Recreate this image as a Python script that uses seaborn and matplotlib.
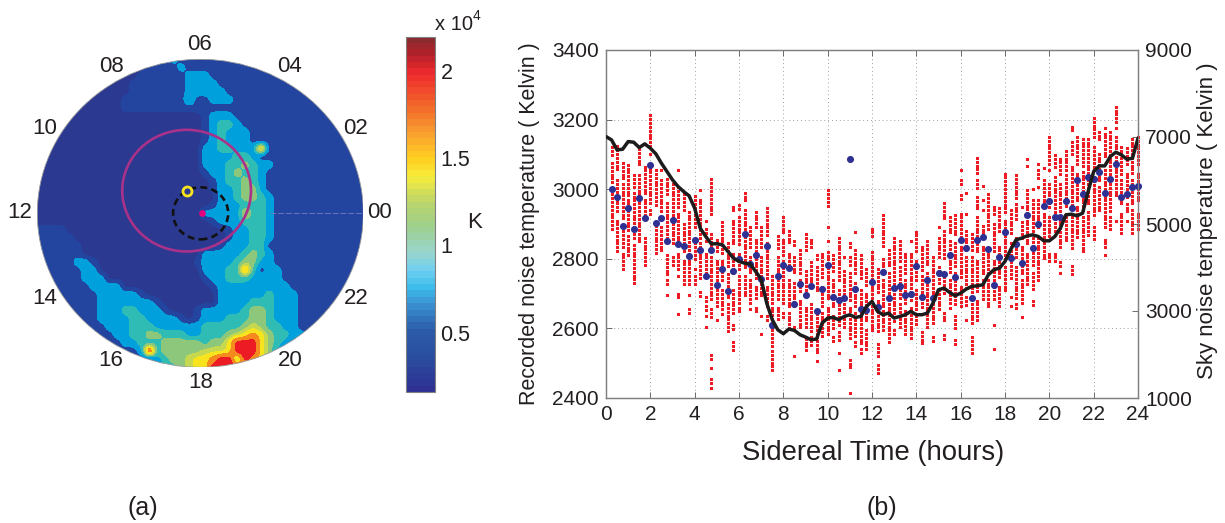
import numpy as np
import pandas as pd
import matplotlib
matplotlib.use("Agg")
import matplotlib.pyplot as plt
from matplotlib.colors import LinearSegmentedColormap, Normalize
from matplotlib.cm import ScalarMappable
from matplotlib.patches import Circle
import seaborn as sns

# ---------- data: sky map (band code per grid node) ----------
SKY_ROWS = [
"0000000000 0000111211 1111111111 1000000000 00",
"0000000000 0000111121 1111111111 1100000000 00",
"0000000000 0001111112 2211111111 1110000000 00",
"0000000000 0011111112 2221111111 1111000000 00",
"0000000000 0011111112 2222111111 1111100000 00",
"0000000000 0111111113 1122211111 1111110000 00",
"0000000000 0111111111 1111111111 1111110000 00",
"0000000000 0000000000 0122211111 1111111000 00",
"0000000000 0000000000 0123321111 1111111100 00",
"0000000000 0000000000 0123222111 1111111110 00",
"0000000000 0000000000 0123222111 1111111111 00",
"0000000000 0000000000 0223322271 1111111111 10",
"0000000000 0000000000 0222233211 1111111111 10",
"0000000000 0000000000 0222334322 1111111111 10",
"0000000000 0000000000 0122343321 1111111111 10",
"0000000000 0000000000 0012334321 1111111111 10",
"0000000000 0000000000 0012234421 1111111111 10",
"0000000000 0000000000 0002234432 1111111111 10",
"0000000000 0000000000 0012223332 1111111111 10",
"0000000000 0000000000 0222225332 1111111111 11",
"0000000000 0000000000 0012223332 1111111111 11",
"1111000000 0000000000 0000122332 1111111111 11",
"1111100000 0000000000 0000122332 1111111111 11",
"1111110000 0000000000 0001222331 1111111111 11",
"1111110000 0000000000 0222223432 1111111111 11",
"1111122100 0000000000 1222234422 1111111111 11",
"1111112200 0000000000 0222337312 2111111111 11",
"1111112220 0000000000 0122333222 2111111111 11",
"1111111222 2000000000 0012222222 2211111111 11",
"1111111122 2221000000 0002222223 2221111111 11",
"1111111122 2222210000 0002222333 2221111111 11",
"1111111122 2332221000 1222223443 2221111111 11",
"1111111122 2233222210 1222333443 2221111111 11",
"1111111112 2233322222 2333334543 3221111111 11",
"1111111111 2233443332 2333456764 3322111111 11",
"1111111111 1223334444 4344688864 3211111111 11",
"1111111111 1112834444 4555688864 2111111111 11",
"1111111111 1111123445 6678848764 2111111111 11",
"1111111111 1111113345 6688886644 2111111111 11",
"1111111111 1111113345 6688886644 2111111111 11",
]
SKY_BAND_TEMPS = [0.20, 0.40, 0.70, 0.90, 1.10, 1.25, 1.40, 1.65, 1.95]   # x 10^4 K
SKY_BAND_COLORS = ["#2b3990", "#2345a0", "#00a0dc", "#2fbcb4", "#8dc77b",
                   "#c5d84f", "#f7e41f", "#f58a1f", "#ed1c24", "#c0202a"]
HOUR_LABELS = ["00", "02", "04", "06", "08", "10", "12", "14", "16", "18", "20", "22"]
CB_COLORS = ["#2e3192", "#2b4ea0", "#2b5ba8", "#3a8fd0", "#3dbdea", "#6ecff0", "#98d5cf",
             "#9ccf8f", "#bcd56a", "#f7ec3a", "#ffd020", "#f9a030", "#f36a2a", "#ee2a2e",
             "#b9212a", "#8b2a2e"]
CB_VALUES = [0.16, 0.35, 0.50, 0.65, 0.75, 0.85, 0.95, 1.10, 1.25, 1.40, 1.50, 1.65, 1.80, 2.00, 2.10, 2.196]

# ---------- data: noise temperature panel ----------
MEAN_TEMPS = [3000,2978,2895,2945,2886,2975,2917,3069,2904,2917,2852,2911,2842,2837,2807,2855,
              2824,2751,2824,2725,2770,2707,2764,2798,2870,2785,2810,2743,2838,2611,2751,2781,
              2773,2669,2728,2696,2722,2651,2714,2782,2690,2681,2686,3088,2712,2655,2653,2732,
              2661,2761,2688,2715,2722,2695,2699,2780,2690,2739,2686,2760,2755,2811,2749,2854,
              2830,2686,2854,2863,2829,2726,2805,2877,2801,2842,2789,2926,2831,2900,2952,2967,
              2921,2921,2965,2946,3025,2987,3035,3030,3049,2989,3028,3073,2978,2986,3007,3009]
SKY_CURVE = [7010,6933,6704,6719,6895,6880,6757,6842,6742,6612,6397,6206,6015,5862,5747,5647,5364,
             4905,4713,4545,4545,4522,4369,4216,4139,4101,4085,3909,3733,3182,2799,2569,2478,2585,
             2554,2455,2401,2340,2355,2723,2837,2853,2799,2876,2914,2853,2876,3105,3220,2991,2914,
             2952,2837,2876,2914,2991,2914,2914,2952,3182,3488,3526,3427,3350,3412,3503,3565,3580,
             3603,3833,3948,3986,4139,4407,4637,4675,4729,4751,4713,4614,4614,4713,4905,5211,5226,
             5188,5249,5747,6206,6336,6336,6551,6650,6589,6489,6512,6972]
# occupied temperature runs (hi, lo) for each quarter-hour column, t = 0.25 ... 24
RECORDED_RUNS = [
[(3120,3090),(3075,3015),(2985,2880)],[(3123,3050),(3025,2930),(2910,2820)],
[(3075,3025),(3015,2910),(2890,2825),(2815,2765)],[(3070,2980),(2970,2875),(2865,2800)],
[(3040,3000),(2990,2890),(2870,2850),(2840,2725)],[(3115,3070),(3040,2980),(2970,2860),(2850,2840)],
[(3065,2980),(2970,2920),(2860,2780)],[(3212,3120),(3100,3095),(3070,2960),(2940,2925)],
[(3055,2950),(2905,2815)],[(3055,3045),(3025,2930),(2890,2815)],
[(3030,2980),(2960,2855),(2810,2750),(2740,2720),(2695,2685)],[(3015,2910),(2900,2835),(2805,2775)],
[(3055,3045),(3005,2940),(2930,2835),(2815,2765),(2750,2740),(2700,2680),(2640,2633)],
[(2985,2940),(2900,2815),(2795,2720)],[(2935,2880),(2870,2815),(2795,2725),(2695,2685),(2655,2640)],
[(2980,2885),(2855,2795),(2770,2760),(2750,2725)],[(2997,2990),(2970,2855),(2845,2740),(2705,2685)],
[(2910,2900),(2885,2845),(2815,2745),(2690,2670),(2665,2650),(2635,2625),(2605,2597)],
[(3030,3015),(3005,2920),(2870,2835),(2805,2680),(2655,2625),(2523,2505),(2485,2475),(2455,2440),(2430,2425)],
[(2855,2815),(2795,2740),(2720,2660),(2625,2615)],[(2905,2815),(2795,2740),(2710,2655),(2640,2630)],
[(2845,2775),(2755,2680),(2670,2590)],[(2950,2930),(2910,2835),(2815,2758),(2710,2640),(2610,2595),(2560,2535)],
[(2955,2935),(2920,2835),(2815,2768),(2750,2670),(2660,2645)],[(2990,2960),(2940,2775),(2750,2690)],
[(2890,2835),(2805,2758),(2740,2670),(2655,2645)],[(2935,2890),(2855,2740),(2720,2680),(2660,2645)],
[(2890,2835),(2805,2690),(2635,2625),(2585,2578)],[(2945,2865),(2845,2740),(2720,2655),(2635,2620)],
[(2750,2670),(2660,2615),(2605,2550),(2535,2480)],[(2865,2825),(2805,2758),(2740,2680),(2660,2625)],
[(2920,2875),(2855,2805),(2795,2670),(2645,2625)],[(2880,2840),(2815,2775),(2740,2660),(2645,2595)],
[(2850,2835),(2805,2758),(2730,2660),(2605,2585),(2520,2510)],[(2825,2758),(2740,2700),(2680,2595)],
[(2870,2825),(2765,2700),(2660,2605),(2570,2535)],[(2855,2830),(2790,2720),(2670,2585),(2575,2550)],
[(2810,2795),(2775,2700),(2640,2585),(2575,2530),(2505,2495)],[(2815,2740),(2720,2655),(2645,2575)],
[(2997,2945),(2890,2880),(2850,2842),(2820,2795),(2785,2680),(2660,2575)],
[(2810,2758),(2740,2655),(2635,2595),(2575,2560)],
[(2860,2805),(2795,2730),(2710,2605),(2590,2560),(2530,2520),(2480,2472)],
[(2805,2795),(2765,2690),(2670,2595)],
[(2845,2830),(2805,2775),(2758,2680),(2660,2565),(2510,2485),(2415,2405)],
[(2878,2872),(2825,2750),(2730,2660),(2645,2575),(2560,2545)],
[(2810,2740),(2710,2660),(2645,2555),(2540,2525)],[(2770,2720),(2700,2615),(2595,2530)],
[(2887,2855),(2820,2730),(2720,2610),(2605,2590)],[(2770,2700),(2680,2585),(2555,2520),(2495,2470)],
[(2925,2830),(2800,2765),(2740,2660),(2650,2595)],[(2825,2775),(2758,2670),(2660,2560)],
[(2860,2805),(2795,2720),(2710,2614),(2595,2578)],[(2850,2795),(2775,2680),(2670,2595)],
[(2815,2758),(2740,2670),(2650,2578)],[(2850,2840),(2815,2680),(2660,2566)],
[(2878,2815),(2795,2740),(2710,2655),(2635,2605)],[(2835,2768),(2750,2660),(2590,2555)],
[(2850,2775),(2758,2670),(2660,2605)],[(2805,2690),(2670,2605),(2575,2560)],
[(2890,2880),(2860,2795),(2775,2730),(2710,2655)],[(2960,2910),(2880,2795),(2758,2700),(2645,2614),(2580,2566)],
[(2920,2873),(2850,2758),(2740,2670),(2660,2650)],[(2925,2865),(2845,2775),(2758,2670),(2635,2595),(2566,2555)],
[(3055,3045),(3025,3005),(2982,2965),(2930,2855),(2835,2740),(2720,2660)],
[(2990,2985),(2930,2920),(2880,2825),(2805,2710),(2690,2660),(2625,2615)],
[(2870,2825),(2805,2700),(2670,2605),(2575,2550),(2540,2520)],
[(3090,3045),(3025,2997),(2978,2940),(2920,2815),(2795,2700),(2680,2625)],
[(3010,3000),(2968,2958),(2940,2930),(2895,2855),(2835,2758),(2740,2680)],
[(2985,2940),(2930,2885),(2815,2758),(2740,2655)],[(2950,2920),(2900,2815),(2795,2680),(2610,2605),(2540,2535)],
[(2945,2875),(2835,2740),(2720,2660)],[(3045,2988),(2978,2930),(2910,2795),(2775,2700)],
[(2940,2865),(2845,2740),(2690,2680),(2665,2655)],[(3040,2968),(2958,2910),(2860,2795),(2775,2680),(2670,2655)],
[(2950,2940),(2905,2855),(2835,2758),(2740,2670),(2633,2625)],
[(3088,3078),(3068,3058),(2997,2930),(2910,2835),(2815,2720)],
[(3000,2990),(2968,2880),(2860,2775),(2758,2710),(2678,2662)],
[(3073,3063),(3055,3025),(3005,2997),(2968,2890),(2860,2805),(2795,2740)],
[(3060,3050),(3025,2950),(2930,2855),(2845,2795)],
[(3150,3073),(3055,3045),(3015,2940),(2920,2865),(2815,2790)],
[(3098,3065),(3035,2978),(2968,2873),(2815,2790)],
[(3088,3035),(3015,2930),(2910,2825),(2790,2775),(2758,2750)],[(3110,3055),(3040,2950),(2930,2845)],
[(3180,3165),(3135,3093),(3065,2950),(2920,2825),(2778,2748)],[(3150,3065),(3045,2968),(2950,2855)],
[(3145,3065),(3050,2940),(2920,2815)],[(3145,3045),(3025,2950),(2935,2865)],
[(3205,3141),(3120,3045),(3035,2920),(2890,2855)],[(3165,3141),(3102,3025),(3005,2930)],
[(3175,3165),(3160,3085),(3055,2978),(2968,2890),(2855,2830),(2810,2800)],
[(3165,3120),(3110,3035),(3015,2930),(2920,2882)],
[(3237,3190),(3175,3165),(3150,3102),(3092,3025),(3015,2978),(2910,2900)],
[(3122,3045),(3025,2950),(2930,2865)],[(3117,3065),(3045,2978),(2958,2930),(2910,2900)],
[(3145,3045),(3025,2950),(2940,2865)],[(3150,3065),(3045,2968),(2930,2878)],
]
LEFT_TICKS = [2400, 2600, 2800, 3000, 3200, 3400]
RIGHT_TICKS = [1000, 3000, 5000, 7000, 9000]
HOUR_TICKS = list(range(0, 25, 2))

# ---------- layout ----------
W, H = 1225, 523
sns.set_theme(style="white")
plt.rcParams["font.family"] = ["Liberation Sans", "DejaVu Sans"]
TXT = "#231f20"
fig = plt.figure(figsize=(W / 100, H / 100), dpi=100, facecolor="white")


def box(l, t, r, b):
    return [l / W, 1 - b / H, (r - l) / W, (b - t) / H]


def put(x, y, s, **kw):
    kw.setdefault("ha", "center")
    kw.setdefault("va", "center")
    kw.setdefault("color", TXT)
    fig.text(x / W, 1 - y / H, s, **kw)


def refine(z, n=4):
    """Resample the read-off grid more finely so that the bands have round edges."""
    rows = np.linspace(0, z.shape[0] - 1, (z.shape[0] - 1) * n + 1)
    cols = np.linspace(0, z.shape[1] - 1, (z.shape[1] - 1) * n + 1)
    z = np.array([np.interp(cols, np.arange(z.shape[1]), r) for r in z])
    z = np.array([np.interp(rows, np.arange(z.shape[0]), c) for c in z.T]).T
    k = np.ones(3) / 3
    z = np.apply_along_axis(lambda v: np.convolve(np.pad(v, 1, mode="edge"), k, "valid"), 0, z)
    z = np.apply_along_axis(lambda v: np.convolve(np.pad(v, 1, mode="edge"), k, "valid"), 1, z)
    return z


# ---------- sky map ----------
ax_map = fig.add_axes(box(37.3, 59.3, 363.3, 367.3))
codes = np.array([[int(c) for c in row.replace(" ", "")] for row in SKY_ROWS])
temps = refine(np.array(SKY_BAND_TEMPS)[codes])
gx = np.linspace(-1, 1.0123, temps.shape[1])
gy = np.linspace(1, -1.052, temps.shape[0])
mids = np.array(SKY_BAND_TEMPS)
bounds = [0] + list((mids[:-1] + mids[1:]) / 2) + [2.1, 3]
cs = ax_map.contourf(gx, gy, temps, levels=bounds, colors=SKY_BAND_COLORS)
disc = Circle((0, 0), 1, transform=ax_map.transData, fc="none", ec="#9a9a9a", lw=0.6, zorder=5)
ax_map.add_patch(disc)
cs.set_clip_path(disc)
ax_map.plot([0.43, 1], [0, 0], color="#6a78bb", lw=0.7, ls=(0, (6, 2)), zorder=2)
ax_map.add_patch(Circle((-0.084, 0.147), 0.395, fc="none", ec="#a8328a", lw=1.9, zorder=6))
ax_map.add_patch(Circle((0.002, 0.0), 0.169, fc="none", ec="#111111", lw=1.9, ls=(0, (2.6, 1.6)), zorder=6))
ax_map.plot([-0.084], [0.145], "o", ms=6.5, mfc="#2b3990", mec="#f7e41f", mew=2, zorder=7)
ax_map.plot([0.008], [0.0], "o", ms=4.8, mfc="#e6007e", mec="none", zorder=7)
ax_map.set_xlim(-1, 1)
ax_map.set_ylim(-1, 1)
ax_map.axis("off")

hour_pos = [(380, 213), (356, 128), (290, 66), (200, 44), (111, 66), (45, 128),
            (20, 213), (45, 298), (111, 361), (201, 383), (290, 361), (356, 298)]
for lab, (px, py) in zip(HOUR_LABELS, hour_pos):
    put(px, py, lab, fontsize=16)

# ---------- colour bar ----------
cax = fig.add_axes(box(405.7, 36.7, 435, 392))
vmin, vmax = CB_VALUES[0], CB_VALUES[-1]
pos = [(v - vmin) / (vmax - vmin) for v in CB_VALUES]
cmap = LinearSegmentedColormap.from_list("sky", list(zip(pos, CB_COLORS)), N=56)
cb = fig.colorbar(ScalarMappable(Normalize(vmin, vmax), cmap), cax=cax)
cb.set_ticks([0.5, 1, 1.5, 2], labels=["0.5", "1", "1.5", "2"])
cax.tick_params(axis="y", direction="in", length=3, width=0.6, left=True, right=True,
                labelsize=15.5, labelcolor=TXT, color="#333333", pad=4)
cb.outline.set_edgecolor("#808080")
cb.outline.set_linewidth(0.8)
put(435, 25, "x 10", fontsize=14.5, ha="left")
put(473, 16, "4", fontsize=10, ha="left")
put(475, 223, "K", fontsize=16)

# ---------- noise temperature panel ----------
ax = fig.add_axes(box(606, 50, 1138, 398))
col_t = [0.25 * (i + 1) for i in range(len(MEAN_TEMPS))]
rec_t, rec_v = [], []
for t, runs in zip(col_t, RECORDED_RUNS):
    for hi, lo in runs:
        for v in np.arange(hi, lo - 1, -11.0):
            rec_t.append(t)
            rec_v.append(v)
df_red = pd.DataFrame({"t": rec_t, "v": rec_v})
df_mean = pd.DataFrame({"t": col_t, "v": MEAN_TEMPS})
df_sky = pd.DataFrame({"t": [0.25 * i for i in range(len(SKY_CURVE))], "v": SKY_CURVE})

sns.scatterplot(data=df_red, x="t", y="v", ax=ax, marker="s", s=4.8, color="#ed1c24",
                linewidth=0, legend=False, zorder=3, clip_on=False)
ax.collections[-1].set_snap(False)
sns.scatterplot(data=df_mean, x="t", y="v", ax=ax, marker="o", s=26, color="#2e3192",
                linewidth=0, legend=False, zorder=4, clip_on=False)
ax.set_xlim(0, 24)
ax.set_ylim(2400, 3400)
ax.set_xticks(HOUR_TICKS)
ax.set_yticks(LEFT_TICKS)
ax.set_xlabel("")
ax.set_ylabel("")
ax.grid(True, color="#a0a0a0", lw=0.7, ls=(0, (1, 3)))
ax.set_axisbelow(True)
ax.tick_params(axis="both", direction="in", length=4, width=0.6, top=True, bottom=True,
               left=True, labelsize=15, labelcolor=TXT, color="#555555", pad=5)
for s in ax.spines.values():
    s.set_edgecolor("#808080")
    s.set_linewidth(0.9)

ax2 = ax.twinx()
sns.lineplot(data=df_sky, x="t", y="v", ax=ax2, color="#1c1c1c", lw=2.5, legend=False, zorder=5)
ax2.set_xlim(0, 24)
ax2.set_ylim(1000, 9000)
ax2.set_yticks(RIGHT_TICKS)
ax2.set_xlabel("")
ax2.set_ylabel("")
ax2.grid(False)
ax2.tick_params(axis="y", direction="in", length=4, width=0.6, right=True, labelsize=15,
                labelcolor=TXT, color="#555555", pad=5)
for s in ax2.spines.values():
    s.set_edgecolor("#808080")
    s.set_linewidth(0.9)

put(873, 453, "Sidereal Time (hours)", fontsize=19.8)
put(530, 224, "Recorded noise temperature ( Kelvin )", fontsize=15.5, rotation=90)
put(1207, 221, "Sky noise temperature ( Kelvin )", fontsize=16, rotation=90)
put(143, 508, "(a)", fontsize=18)
put(882, 508, "(b)", fontsize=18)

fig.savefig("out.png", dpi=100)
